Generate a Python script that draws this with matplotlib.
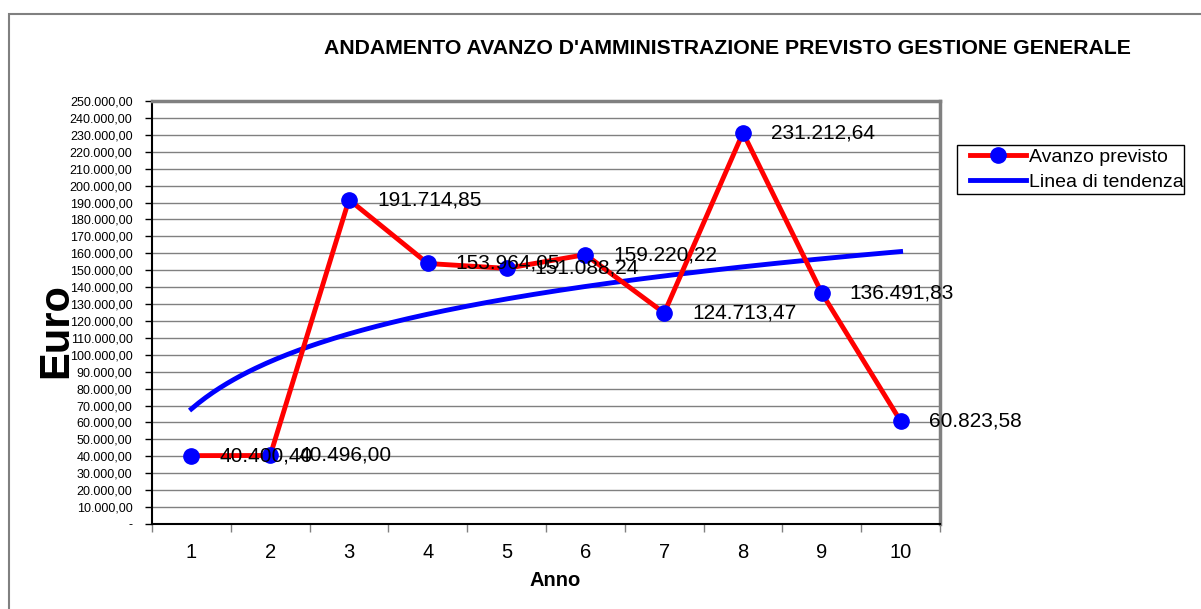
import numpy as np
import matplotlib
matplotlib.use("Agg")
import matplotlib.pyplot as plt
from matplotlib.patches import Rectangle

plt.rcParams['font.family'] = ['Liberation Sans', 'DejaVu Sans']

years = [1, 2, 3, 4, 5, 6, 7, 8, 9, 10]
avanzo = [40400.40, 40496.00, 191714.85, 153964.05, 151088.24,
          159220.22, 124713.47, 231212.64, 136491.83, 60823.58]
labels = ["40.400,40", "40.496,00", "191.714,85", "153.964,05", "151.088,24",
          "159.220,22", "124.713,47", "231.212,64", "136.491,83", "60.823,58"]
y_ticks = list(range(0, 250001, 10000))

def fmt(v):
    if v == 0:
        return "-"
    s = f"{v:,.2f}"
    return s.replace(",", "X").replace(".", ",").replace("X", ".")

# logarithmic trend line (least squares on ln x)
x = np.array(years, dtype=float)
a, b = np.polyfit(np.log(x), np.array(avanzo), 1)
xt = np.linspace(1, 10, 200)
yt = a * np.log(xt) + b

W, H = 1201, 609
fig = plt.figure(figsize=(W / 100, H / 100), dpi=100)
ax = fig.add_axes([152 / W, 1 - 524 / H, (940 - 152) / W, (524 - 101) / H])

# outer border
fig.patches.append(Rectangle((9 / W, -0.1), 1.2, 1 - 14 / H + 0.1,
                             transform=fig.transFigure, fill=False,
                             edgecolor='#808080', linewidth=1.5))

ax.plot(xt, yt, color='#0000FF', lw=3.5, label='Linea di tendenza', zorder=3)
ax.plot(years, avanzo, color='#FF0000', lw=3.5, marker='o', markersize=11,
        markerfacecolor='#0000FF', markeredgecolor='#0000FF',
        label='Avanzo previsto', zorder=4)

for xi, yi, lab in zip(years, avanzo, labels):
    ax.annotate(lab, (xi, yi), xytext=(28, 0), textcoords='offset pixels',
                ha='left', va='center', fontsize=15, color='black', zorder=5)

ax.set_xlim(0.5, 10.5)
ax.set_ylim(0, 250000)
ax.set_yticks(y_ticks)
ax.set_yticklabels([fmt(v) for v in y_ticks], fontsize=9)
ax.set_xticks(years)
ax.set_xticklabels([str(y) for y in years], fontsize=14.5)
ax.set_xticks(np.arange(0.5, 11, 1), minor=True)
ax.tick_params(axis='x', which='major', length=0, pad=14)
ax.tick_params(axis='x', which='minor', length=6, color='#808080', width=1)
ax.tick_params(axis='y', which='major', length=5, width=1, color='black', pad=9)

ax.grid(axis='y', color='#808080', lw=1)
ax.set_axisbelow(True)
for s in ['left', 'bottom']:
    ax.spines[s].set_color('black')
    ax.spines[s].set_linewidth(1.5)
for s in ['top', 'right']:
    ax.spines[s].set_color('#808080')
    ax.spines[s].set_linewidth(2.5)

fig.text(555 / W, 1 - 580 / H, 'Anno', fontsize=14.5, fontweight='bold',
         ha='center', va='center')
fig.text(56 / W, 1 - 331 / H, 'Euro', rotation=90, fontsize=30,
         fontweight='bold', ha='center', va='center')
fig.text(727 / W, 1 - 48 / H,
         "ANDAMENTO AVANZO D'AMMINISTRAZIONE PREVISTO GESTIONE GENERALE",
         fontsize=15.3, fontweight='bold', ha='center', va='center')

# legend frame drawn separately
fig.patches.append(Rectangle((957 / W, 1 - 194 / H), (1184 - 957) / W, 49 / H,
                             transform=fig.transFigure, fill=False,
                             edgecolor='black', linewidth=1))
handles, labs = ax.get_legend_handles_labels()
leg = fig.legend(handles[::-1], labs[::-1], loc='center left',
                 bbox_to_anchor=(970 / W, 1 - 169.5 / H), borderaxespad=0,
                 fontsize=14, frameon=False, borderpad=0,
                 handlelength=2.9, handletextpad=0.15, labelspacing=0.4)

fig.savefig('out.png', dpi=100)
